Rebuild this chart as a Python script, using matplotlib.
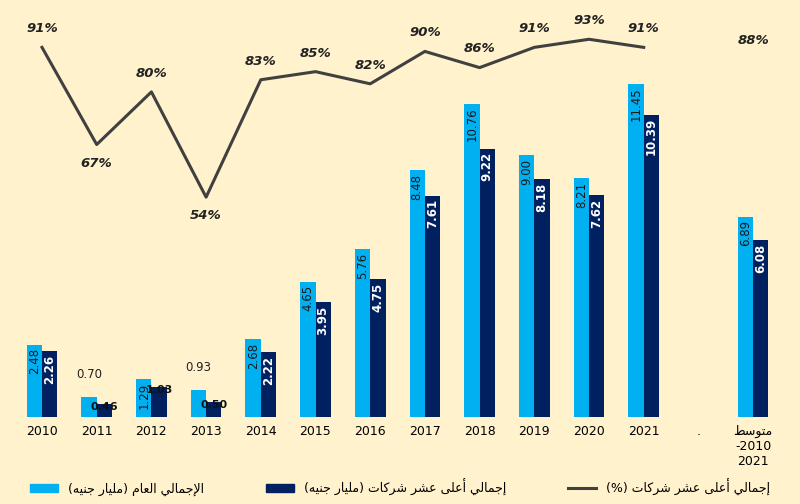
import matplotlib
matplotlib.use("Agg")
from matplotlib import pyplot as plt
from matplotlib.patches import Patch
from matplotlib.lines import Line2D

# البيانات
years = ["2010", "2011", "2012", "2013", "2014", "2015", "2016", "2017",
         "2018", "2019", "2020", "2021"]
total = [2.48, 0.70, 1.29, 0.93, 2.68, 4.65, 5.76, 8.48, 10.76, 9.00, 8.21, 11.45]
top10 = [2.26, 0.46, 1.03, 0.50, 2.22, 3.95, 4.75, 7.61, 9.22, 8.18, 7.62, 10.39]
share = [91, 67, 80, 54, 83, 85, 82, 90, 86, 91, 93, 91]
avg_total = 6.89
avg_top10 = 6.08
avg_share = 88

# تشكيل الحروف العربية يدويا
FORMS = {
    "ا": (0xFE8D, 0xFE8E, None, None), "أ": (0xFE83, 0xFE84, None, None),
    "إ": (0xFE87, 0xFE88, None, None), "د": (0xFEA9, 0xFEAA, None, None),
    "ر": (0xFEAD, 0xFEAE, None, None), "و": (0xFEED, 0xFEEE, None, None),
    "ى": (0xFEEF, 0xFEF0, None, None),
    "ب": (0xFE8F, 0xFE90, 0xFE91, 0xFE92), "ت": (0xFE95, 0xFE96, 0xFE97, 0xFE98),
    "ج": (0xFE9D, 0xFE9E, 0xFE9F, 0xFEA0), "س": (0xFEB1, 0xFEB2, 0xFEB3, 0xFEB4),
    "ش": (0xFEB5, 0xFEB6, 0xFEB7, 0xFEB8), "ط": (0xFEC1, 0xFEC2, 0xFEC3, 0xFEC4),
    "ع": (0xFEC9, 0xFECA, 0xFECB, 0xFECC), "ك": (0xFED9, 0xFEDA, 0xFEDB, 0xFEDC),
    "ل": (0xFEDD, 0xFEDE, 0xFEDF, 0xFEE0), "م": (0xFEE1, 0xFEE2, 0xFEE3, 0xFEE4),
    "ن": (0xFEE5, 0xFEE6, 0xFEE7, 0xFEE8), "ه": (0xFEE9, 0xFEEA, 0xFEEB, 0xFEEC),
    "ي": (0xFEF1, 0xFEF2, 0xFEF3, 0xFEF4),
}
LAM_ALEF = {"ا": (0xFEFB, 0xFEFC), "أ": (0xFEF7, 0xFEF8), "إ": (0xFEF9, 0xFEFA)}


def dual(c):
    return c in FORMS and FORMS[c][2] is not None


def ar(text):
    out = []
    i = 0
    n = len(text)
    while i < n:
        c = text[i]
        prev = text[i - 1] if i > 0 else ""
        cp = dual(prev)
        if c == "ل" and i + 1 < n and text[i + 1] in LAM_ALEF:
            out.append(chr(LAM_ALEF[text[i + 1]][1 if cp else 0]))
            i += 2
            continue
        if c in FORMS:
            nxt = text[i + 1] if i + 1 < n else ""
            cn = dual(c) and nxt in FORMS
            f = FORMS[c]
            if cp and cn:
                g = f[3]
            elif cn:
                g = f[2]
            elif cp:
                g = f[1]
            else:
                g = f[0]
            out.append(chr(g))
        else:
            out.append({"(": ")", ")": "("}.get(c, c))
        i += 1
    return "".join(reversed(out))


bg = "#FFF2CC"
light = "#00B0F0"
dark = "#002060"
gray = "#404040"

fig = plt.figure(figsize=(8, 5.04), dpi=100, facecolor=bg)
ax = fig.add_axes([0, 87 / 504, 1, 417 / 504])
ax.set_facecolor(bg)

xs = list(range(len(years)))
x_avg = len(years) + 1
w = 0.28

tv = total + [avg_total]
dv = top10 + [avg_top10]
px = xs + [x_avg]
ax.bar([p - w / 2 for p in px], tv, w, color=light)
ax.bar([p + w / 2 for p in px], dv, w, color=dark)

for p, v in zip(px, tv):
    if v < 1.0:
        ax.text(p - w / 2, v + 0.55, "%.2f" % v, ha="center", va="bottom", fontsize=8.5, color="#222222")
    else:
        ax.text(p - w / 2, v - 0.12, "%.2f" % v, ha="center", va="top", rotation=90, fontsize=8.5, color="#1a1a1a")
for p, v in zip(px, dv):
    if v < 1.1:
        ax.text(p + w / 2, v - 0.1, "%.2f" % v, ha="center", va="center", fontsize=8, color="#111111", fontweight="bold")
    else:
        ax.text(p + w / 2, v - 0.12, "%.2f" % v, ha="center", va="top", rotation=90, fontsize=8.5, color="white", fontweight="bold")

ax.set_xlim(-42 / 54.7, 758 / 54.7)
ax.set_ylim(0, 417 / 29.1)
ax.set_xticks(xs + [len(years), x_avg])
ax.set_xticklabels(years + ["."] + [ar("متوسط") + "\n-2010\n2021"], fontsize=9)
ax.tick_params(axis="x", length=0, pad=6)
ax.set_yticks([])
for s in ax.spines.values():
    s.set_visible(False)

ax2 = ax.twinx()
ax2.set_ylim(-0.3, 102.7)
ax2.set_yticks([])
for s in ax2.spines.values():
    s.set_visible(False)
ax2.plot(xs, share, color=gray, lw=2.2)
for p, v in zip(xs, share):
    below = v in (67, 54)
    ax2.text(p, v + (-3 if below else 3), "%d%%" % v, ha="center", va="top" if below else "bottom",
             fontsize=9.5, fontweight="bold", fontstyle="italic", color="#222222")
ax2.text(x_avg, avg_share + 3, "%d%%" % avg_share, ha="center", va="bottom",
         fontsize=9.5, fontweight="bold", fontstyle="italic", color="#222222")

handles = [Patch(color=light), Patch(color=dark), Line2D([], [], color=gray, lw=2.2)]
labels = [ar("الإجمالي العام (مليار جنيه)"), ar("إجمالي أعلى عشر شركات (مليار جنيه)"),
          ar("إجمالي أعلى عشر شركات (%)")]
fig.legend(handles, labels, loc="center", bbox_to_anchor=(0.5, 17 / 504), ncol=3,
           frameon=False, fontsize=9, columnspacing=5, handlelength=2.2)

fig.savefig("out.png", dpi=100, facecolor=bg)
